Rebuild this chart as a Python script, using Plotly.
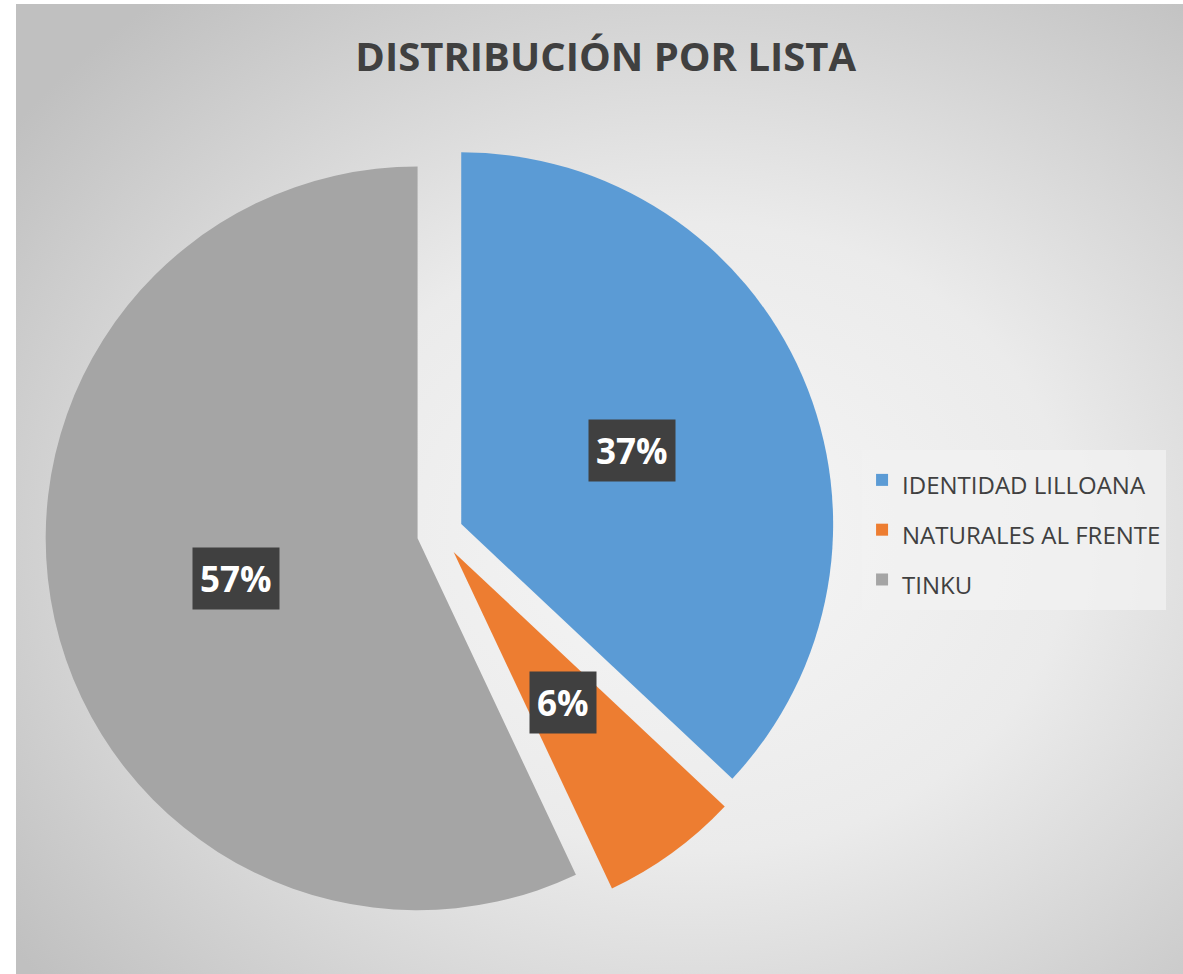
import math
import urllib.parse
import plotly.graph_objects as go

# data
listas = ["IDENTIDAD LILLOANA", "NATURALES AL FRENTE", "TINKU"]
porcentajes = [37, 6, 57]
colores = ["#5B9BD5", "#ED7D31", "#A5A5A5"]
titulo = "DISTRIBUCIÓN POR LISTA"

W, H = 1183, 974
PULL = 0.062
# pie domain (paper)
dom_x = [0.038, 0.706]
dom_y = [0.047, 0.858]

# radial gradient background as inline svg
svg = (
    '<svg xmlns="http://www.w3.org/2000/svg" width="1167" height="970">'
    '<defs><radialGradient id="g" cx="58%" cy="55%" r="72%">'
    '<stop offset="0" stop-color="#f6f6f6"/>'
    '<stop offset="0.45" stop-color="#ebebeb"/>'
    '<stop offset="1" stop-color="#c0c0c0"/>'
    '</radialGradient></defs>'
    '<rect width="1167" height="970" fill="url(#g)"/></svg>'
)
bg_src = "data:image/svg+xml;charset=utf-8," + urllib.parse.quote(svg)

fig = go.Figure()
fig.add_trace(go.Pie(
    labels=[f'<span style="font-size:24px">{l}</span>' for l in listas],
    values=porcentajes,
    marker=dict(colors=colores, line=dict(width=0)),
    sort=False,
    direction="clockwise",
    rotation=0,
    pull=[PULL] * len(listas),
    textinfo="none",
    domain=dict(x=dom_x, y=dom_y),
    customdata=listas,
    hovertemplate="%{customdata}: %{percent}<extra></extra>",
))

# label boxes placed along each slice's bisector
cx_px = (dom_x[0] + dom_x[1]) / 2 * W
cy_px = (1 - (dom_y[0] + dom_y[1]) / 2) * H
r_px = min((dom_x[1] - dom_x[0]) * W, (dom_y[1] - dom_y[0]) * H) / 2 / (1 + PULL)
total = sum(porcentajes)
acc = 0
for v in porcentajes:
    mid = (acc + v / 2) / total * 2 * math.pi
    acc += v
    d = r_px * (PULL + 0.5)
    px = cx_px + d * math.sin(mid)
    py = cy_px - d * math.cos(mid)
    fig.add_annotation(
        x=px / W, y=1 - py / H, xref="paper", yref="paper",
        xanchor="center", yanchor="middle",
        text=f"<b>{round(v / total * 100)}%</b>", showarrow=False,
        font=dict(family="Open Sans", size=35, color="white"),
        bgcolor="#404040",
        borderpad=7,
    )

fig.update_layout(
    width=W, height=H,
    margin=dict(l=0, r=0, t=0, b=0),
    paper_bgcolor="white",
    title=dict(text=f"<b>{titulo}</b>", x=0.512, xanchor="center", y=0.9415, yanchor="middle",
               font=dict(family="Open Sans", size=40, color="#404040")),
    legend=dict(x=0.7287, y=0.538, xanchor="left", yanchor="top",
                bgcolor="rgba(242,242,242,0.75)",
                font=dict(family="Open Sans", size=36, color="#404040"),
                itemwidth=30),
    images=[dict(source=bg_src, xref="paper", yref="paper", x=16 / W, y=1 - 4 / H,
                 sizex=1 - 16 / W, sizey=1 - 4 / H, xanchor="left", yanchor="top",
                 sizing="stretch", layer="below")],
)

fig.write_html("out.html", config={"displayModeBar": False},
               post_script="document.body.style.margin='0';")
